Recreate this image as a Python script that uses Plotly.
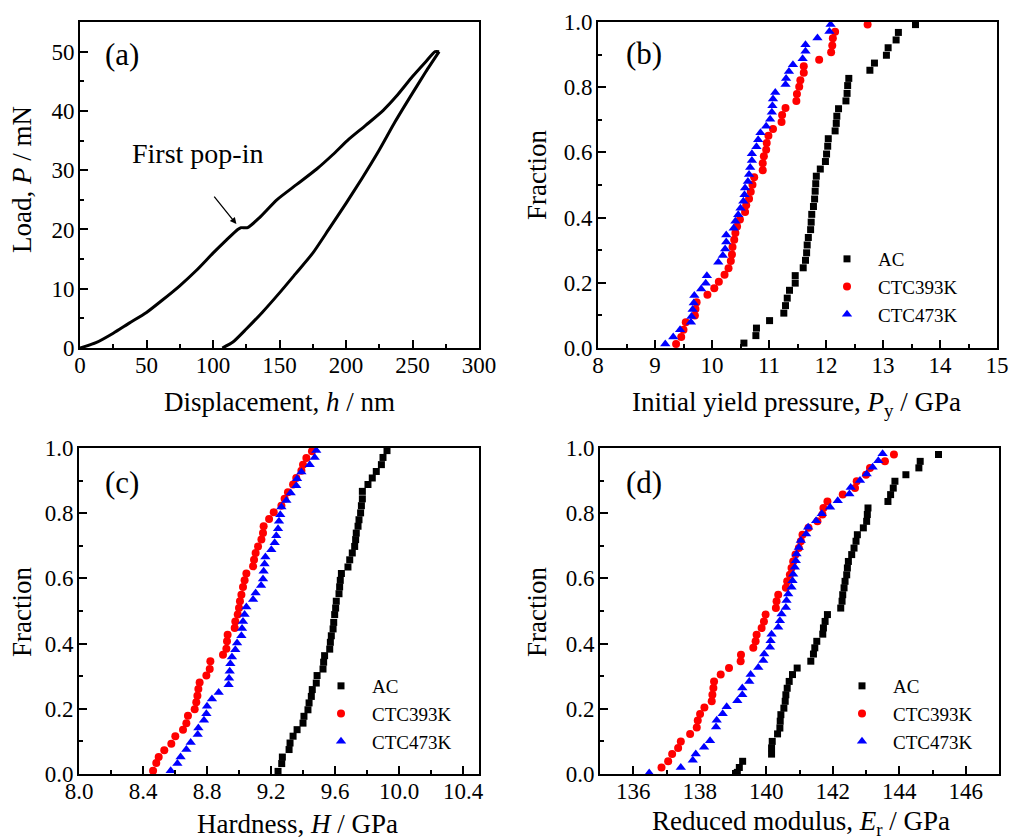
import plotly.graph_objects as go

# ---------------- Panel (a): load-displacement ----------------
load_h = [0, 12, 25, 37, 50, 62, 75, 88, 100, 110, 118.6, 121, 126, 135, 148, 163, 178,
          190, 201, 215, 228, 238, 250, 260, 267, 270]
load_P = [0, 0.9, 2.5, 4.2, 6.0, 8.1, 10.5, 13.2, 16.0, 18.2, 20.0, 20.3, 20.3, 22.0, 25.0,
          27.6, 30.2, 32.6, 35.0, 37.6, 40.1, 42.5, 45.8, 48.3, 50.0, 50.0]
unload_h = [270, 260, 250, 237, 225, 212, 200, 187, 175, 162, 150, 137, 125, 115, 107]
unload_P = [50.0, 46.6, 43.0, 38.2, 33.4, 28.6, 24.4, 20.0, 16.0, 12.5, 9.3, 6.0, 3.2, 1.0, 0]

# ---------------- Panel (b): initial yield pressure ----------------
b_ac_x = [10.56, 10.77, 10.78, 11.01, 11.26, 11.29, 11.32, 11.36, 11.46, 11.46, 11.60, 11.64,
          11.66, 11.67, 11.69, 11.73, 11.74, 11.75, 11.78, 11.80, 11.81, 11.82, 11.83, 11.90,
          11.99, 12.01, 12.03, 12.04, 12.16, 12.18, 12.19, 12.22, 12.35, 12.37, 12.38, 12.40,
          12.77, 12.85, 13.06, 13.09, 13.23, 13.27, 13.57]
b_ac_y = [0.015, 0.038, 0.061, 0.084, 0.107, 0.130, 0.153, 0.177, 0.199, 0.222, 0.246, 0.269,
          0.292, 0.316, 0.339, 0.363, 0.386, 0.410, 0.434, 0.457, 0.481, 0.504, 0.527, 0.549,
          0.572, 0.595, 0.619, 0.642, 0.666, 0.689, 0.711, 0.734, 0.758, 0.781, 0.805, 0.827,
          0.852, 0.874, 0.898, 0.921, 0.945, 0.968, 0.992]
b_393_x = [9.37, 9.46, 9.50, 9.54, 9.70, 9.71, 9.73, 9.92, 10.04, 10.12, 10.22, 10.29, 10.33,
           10.35, 10.36, 10.39, 10.41, 10.44, 10.49, 10.58, 10.60, 10.65, 10.68, 10.71, 10.74,
           10.89, 10.89, 10.91, 10.95, 10.96, 10.99, 11.07, 11.22, 11.23, 11.29, 11.48, 11.49,
           11.53, 11.55, 11.61, 11.61, 11.88, 12.09, 12.11, 12.12, 12.16, 12.73]
b_393_y = [0.012, 0.034, 0.056, 0.079, 0.100, 0.120, 0.140, 0.163, 0.183, 0.203, 0.225, 0.245,
           0.267, 0.287, 0.310, 0.332, 0.353, 0.373, 0.394, 0.417, 0.438, 0.458, 0.479, 0.501,
           0.524, 0.545, 0.567, 0.588, 0.608, 0.629, 0.651, 0.672, 0.693, 0.715, 0.736, 0.758,
           0.779, 0.801, 0.821, 0.844, 0.864, 0.884, 0.907, 0.928, 0.950, 0.970, 0.992]
b_473_x = [9.18, 9.32, 9.44, 9.63, 9.64, 9.66, 9.68, 9.69, 9.81, 9.89, 9.91, 10.11, 10.19,
           10.23, 10.25, 10.25, 10.38, 10.41, 10.46, 10.50, 10.55, 10.57, 10.58, 10.63, 10.65,
           10.67, 10.70, 10.70, 10.78, 10.81, 10.85, 10.95, 11.02, 11.05, 11.06, 11.07, 11.11,
           11.29, 11.30, 11.35, 11.42, 11.59, 11.64, 11.64, 11.85, 12.06, 12.08]
b_473_y = [0.012, 0.034, 0.056, 0.079, 0.097, 0.118, 0.138, 0.161, 0.181, 0.199, 0.222, 0.263,
           0.284, 0.304, 0.325, 0.347, 0.367, 0.389, 0.409, 0.429, 0.450, 0.470, 0.491, 0.511,
           0.532, 0.554, 0.575, 0.596, 0.617, 0.639, 0.660, 0.680, 0.702, 0.723, 0.743, 0.764,
           0.784, 0.808, 0.827, 0.848, 0.869, 0.887, 0.910, 0.930, 0.951, 0.971, 0.992]

# ---------------- Panel (c): hardness ----------------
c_ac_x = [9.244, 9.267, 9.271, 9.313, 9.319, 9.338, 9.363, 9.400, 9.406, 9.431, 9.438, 9.452,
          9.458, 9.483, 9.488, 9.525, 9.529, 9.535, 9.567, 9.571, 9.577, 9.588, 9.592, 9.598,
          9.604, 9.608, 9.625, 9.629, 9.633, 9.640, 9.681, 9.692, 9.708, 9.723, 9.729, 9.733,
          9.744, 9.750, 9.760, 9.765, 9.771, 9.771, 9.806, 9.833, 9.858, 9.890, 9.900, 9.925]
c_ac_y = [0.008, 0.032, 0.052, 0.075, 0.095, 0.116, 0.136, 0.156, 0.177, 0.197, 0.218, 0.238,
          0.259, 0.279, 0.302, 0.322, 0.343, 0.363, 0.383, 0.404, 0.424, 0.445, 0.465, 0.489,
          0.509, 0.530, 0.553, 0.574, 0.594, 0.615, 0.635, 0.657, 0.678, 0.698, 0.719, 0.739,
          0.760, 0.780, 0.801, 0.823, 0.844, 0.867, 0.888, 0.908, 0.928, 0.949, 0.971, 0.992]
c_393_x = [8.463, 8.483, 8.498, 8.533, 8.577, 8.602, 8.650, 8.671, 8.681, 8.723, 8.733, 8.740,
           8.746, 8.754, 8.796, 8.817, 8.821, 8.900, 8.921, 8.925, 8.929, 8.973, 8.977, 8.992,
           9.000, 9.006, 9.015, 9.025, 9.035, 9.046, 9.088, 9.094, 9.104, 9.119, 9.140, 9.150,
           9.154, 9.188, 9.217, 9.265, 9.285, 9.306, 9.338, 9.358, 9.390, 9.400, 9.421, 9.456]
c_393_y = [0.010, 0.034, 0.052, 0.073, 0.093, 0.116, 0.136, 0.156, 0.179, 0.199, 0.220, 0.240,
           0.261, 0.281, 0.302, 0.322, 0.346, 0.366, 0.384, 0.407, 0.427, 0.448, 0.468, 0.489,
           0.509, 0.530, 0.550, 0.574, 0.594, 0.615, 0.637, 0.657, 0.678, 0.698, 0.719, 0.739,
           0.760, 0.782, 0.803, 0.823, 0.844, 0.864, 0.888, 0.908, 0.930, 0.949, 0.969, 0.990]
c_473_x = [8.573, 8.615, 8.635, 8.671, 8.698, 8.742, 8.746, 8.781, 8.796, 8.800, 8.831, 8.873,
           8.935, 8.938, 8.942, 8.946, 8.956, 8.977, 8.988, 9.015, 9.019, 9.025, 9.035, 9.046,
           9.088, 9.104, 9.138, 9.150, 9.154, 9.160, 9.165, 9.202, 9.223, 9.233, 9.244, 9.250,
           9.258, 9.265, 9.296, 9.323, 9.358, 9.363, 9.390, 9.442, 9.473, 9.483]
c_473_y = [0.010, 0.032, 0.052, 0.075, 0.097, 0.121, 0.141, 0.165, 0.185, 0.208, 0.230, 0.250,
           0.274, 0.294, 0.315, 0.338, 0.359, 0.381, 0.402, 0.424, 0.446, 0.468, 0.489, 0.512,
           0.535, 0.555, 0.578, 0.598, 0.622, 0.644, 0.666, 0.688, 0.709, 0.731, 0.752, 0.775,
           0.795, 0.819, 0.839, 0.862, 0.884, 0.906, 0.926, 0.949, 0.971, 0.992]

# ---------------- Panel (d): reduced modulus ----------------
d_ac_x = [139.13, 139.19, 139.29, 140.16, 140.16, 140.18, 140.34, 140.41, 140.42, 140.44,
          140.53, 140.57, 140.59, 140.63, 140.69, 140.79, 140.93, 141.34, 141.42, 141.46,
          141.52, 141.70, 141.72, 141.77, 141.84, 142.24, 142.28, 142.30, 142.34, 142.37,
          142.42, 142.44, 142.47, 142.57, 142.64, 142.70, 142.74, 142.92, 143.02, 143.04,
          143.06, 143.66, 143.74, 143.82, 143.87, 144.20, 144.59, 144.63, 145.18]
d_ac_y = [0.005, 0.020, 0.039, 0.061, 0.080, 0.100, 0.123, 0.141, 0.162, 0.182, 0.202, 0.223,
          0.243, 0.263, 0.284, 0.305, 0.325, 0.346, 0.368, 0.387, 0.407, 0.429, 0.448, 0.468,
          0.489, 0.509, 0.530, 0.550, 0.571, 0.591, 0.611, 0.632, 0.652, 0.673, 0.693, 0.714,
          0.734, 0.755, 0.775, 0.796, 0.816, 0.836, 0.857, 0.877, 0.898, 0.918, 0.939, 0.959,
          0.980]
d_393_x = [136.85, 137.05, 137.17, 137.35, 137.43, 137.71, 137.91, 137.94, 138.01, 138.14,
           138.36, 138.38, 138.41, 138.43, 138.63, 138.88, 139.23, 139.24, 139.61, 139.68,
           139.71, 139.86, 139.93, 139.98, 140.29, 140.31, 140.36, 140.59, 140.63, 140.71,
           140.76, 140.81, 140.88, 140.98, 141.04, 141.09, 141.27, 141.54, 141.69, 141.72,
           141.84, 142.30, 142.67, 142.72, 143.00, 143.12, 143.57, 143.84]
d_393_y = [0.020, 0.039, 0.061, 0.080, 0.100, 0.123, 0.143, 0.164, 0.184, 0.204, 0.223, 0.243,
           0.264, 0.284, 0.305, 0.325, 0.346, 0.366, 0.387, 0.407, 0.427, 0.448, 0.468, 0.489,
           0.509, 0.530, 0.550, 0.571, 0.591, 0.611, 0.632, 0.652, 0.673, 0.693, 0.714, 0.734,
           0.755, 0.775, 0.796, 0.816, 0.836, 0.857, 0.877, 0.898, 0.918, 0.939, 0.959, 0.980]
d_473_x = [136.48, 137.43, 137.79, 137.88, 138.13, 138.31, 138.49, 138.51, 138.69, 138.81,
           139.13, 139.28, 139.28, 139.49, 139.53, 139.76, 139.91, 139.94, 140.11, 140.13,
           140.16, 140.36, 140.41, 140.46, 140.59, 140.61, 140.66, 140.76, 140.79, 140.81,
           140.86, 140.89, 140.91, 140.98, 141.04, 141.20, 141.26, 141.50, 141.67, 141.92,
           142.15, 142.50, 142.54, 142.82, 143.02, 143.20, 143.37, 143.50]
d_473_y = [0.003, 0.020, 0.042, 0.061, 0.082, 0.102, 0.144, 0.165, 0.185, 0.206, 0.225, 0.243,
           0.264, 0.284, 0.305, 0.327, 0.348, 0.368, 0.389, 0.409, 0.429, 0.450, 0.470, 0.491,
           0.511, 0.532, 0.552, 0.573, 0.593, 0.613, 0.634, 0.654, 0.675, 0.695, 0.716, 0.736,
           0.757, 0.777, 0.798, 0.818, 0.838, 0.859, 0.879, 0.900, 0.920, 0.941, 0.961, 0.982]

series_names = ["AC", "CTC393K", "CTC473K"]
series_colors = ["#000000", "#ff0000", "#0000ff"]
series_symbols = ["square", "circle", "triangle-up"]
series_sizes = [7, 8, 9]

W, H = 1009, 840
FONT = "Liberation Serif"

fig = go.Figure()

# panel (a)
fig.add_trace(go.Scatter(x=load_h, y=load_P, mode="lines",
                         line=dict(color="black", width=3, shape="spline", smoothing=0.6),
                         showlegend=False, xaxis="x", yaxis="y"))
fig.add_trace(go.Scatter(x=unload_h, y=unload_P, mode="lines",
                         line=dict(color="black", width=3, shape="spline", smoothing=0.6),
                         showlegend=False, xaxis="x", yaxis="y"))

panel_data = [
    ("x2", "y2", "legend", [(b_ac_x, b_ac_y), (b_393_x, b_393_y), (b_473_x, b_473_y)]),
    ("x3", "y3", "legend2", [(c_ac_x, c_ac_y), (c_393_x, c_393_y), (c_473_x, c_473_y)]),
    ("x4", "y4", "legend3", [(d_ac_x, d_ac_y), (d_393_x, d_393_y), (d_473_x, d_473_y)]),
]
for xa, ya, lg, sets in panel_data:
    for i, (xs, ys) in enumerate(sets):
        fig.add_trace(go.Scatter(
            x=xs, y=ys, mode="markers", name=series_names[i],
            marker=dict(symbol=series_symbols[i], color=series_colors[i], size=series_sizes[i]),
            xaxis=xa, yaxis=ya, legend=lg, cliponaxis=False))

# pixel boxes of the four plot areas (left, right, top, bottom)
boxes = {
    "1": (80, 479, 22, 348),
    "2": (598, 997, 22, 348),
    "3": (79, 479, 448, 774),
    "4": (600, 999, 448, 774),
}

def dom(b):
    l, r, t, bt = b
    return [l / W, r / W], [1 - bt / H, 1 - t / H]

def axis_common(rng, dtick, minor_dtick, fmt=None, is_x=True, anchor=None, domain=None):
    d = dict(
        range=rng, dtick=dtick, tick0=rng[0] if is_x else 0,
        showline=True, linewidth=2, linecolor="black", mirror=True,
        ticks="inside", ticklen=8, tickwidth=1.5, tickcolor="black",
        minor=dict(ticks="inside", ticklen=4, tickwidth=1.5, tickcolor="black", dtick=minor_dtick),
        showgrid=False, zeroline=False, automargin=False,
        tickfont=dict(size=23, family=FONT, color="black"),
        ticklabelstandoff=-5 if is_x else -1,
        anchor=anchor, domain=domain,
    )
    if fmt:
        d["tickformat"] = fmt
    return d

xd1, yd1 = dom(boxes["1"])
xd2, yd2 = dom(boxes["2"])
xd3, yd3 = dom(boxes["3"])
xd4, yd4 = dom(boxes["4"])

layout = dict(
    width=W, height=H,
    template="none",
    margin=dict(l=0, r=0, t=0, b=0, autoexpand=False),
    paper_bgcolor="white", plot_bgcolor="white",
    font=dict(family=FONT, color="black"),
    xaxis=axis_common([0, 300], 50, 25, anchor="y", domain=xd1),
    yaxis=axis_common([0, 55], 10, 5, is_x=False, anchor="x", domain=yd1),
    xaxis2=axis_common([8, 15], 1, 0.5, anchor="y2", domain=xd2),
    yaxis2=axis_common([0, 1], 0.2, 0.1, fmt=".1f", is_x=False, anchor="x2", domain=yd2),
    xaxis3=axis_common([8.0, 10.5], 0.4, 0.2, fmt=".1f", anchor="y3", domain=xd3),
    yaxis3=axis_common([0, 1], 0.2, 0.1, fmt=".1f", is_x=False, anchor="x3", domain=yd3),
    xaxis4=axis_common([135, 147], 2, 1, anchor="y4", domain=xd4),
    yaxis4=axis_common([0, 1], 0.2, 0.1, fmt=".1f", is_x=False, anchor="x4", domain=yd4),
)
layout["xaxis4"]["tick0"] = 136

leg_common = dict(font=dict(size=19, family=FONT, color="black"), bgcolor="rgba(0,0,0,0)",
                  borderwidth=0, itemwidth=52, xanchor="left", yanchor="top", tracegroupgap=0)
layout["legend"] = dict(leg_common, x=816 / W, y=1 - 240 / H)
layout["legend2"] = dict(leg_common, x=310 / W, y=1 - 667 / H)
layout["legend3"] = dict(leg_common, x=831 / W, y=1 - 667 / H)

fig.update_layout(**layout)

def ptext(txt, px, py, size, angle=0):
    fig.add_annotation(text=txt, x=px / W, y=1 - py / H, xref="paper", yref="paper",
                       showarrow=False, font=dict(size=size, family=FONT, color="black"),
                       xanchor="center", yanchor="middle", textangle=angle)

# axis titles
ptext("Displacement, <i>h</i> / nm", 279, 402, 27)
ptext("Initial yield pressure, <i>P</i><sub>y</sub> / GPa", 796, 404, 27)
ptext("Hardness, <i>H</i> / GPa", 297, 824, 27)
ptext("Reduced modulus, <i>E</i><sub>r</sub> / GPa", 801, 823, 27)
ptext("Load, <i>P</i> / mN", 22, 180, 27, -90)
ptext("Fraction", 537, 175, 27, -90)
ptext("Fraction", 22, 612, 27, -90)
ptext("Fraction", 537, 612, 27, -90)

# panel labels
for txt, px, py in [("(a)", 122, 55), ("(b)", 644, 53), ("(c)", 122, 483), ("(d)", 644, 483)]:
    ptext(txt, px, py, 31)

# first pop-in annotation
fig.add_annotation(text="First pop-in", x=88, y=32.75, xref="x", yref="y", showarrow=False,
                   font=dict(size=28, family=FONT, color="black"), xanchor="center", yanchor="middle")
fig.add_annotation(text="", x=117.6, y=20.9, ax=100, ay=25.8, xref="x", yref="y",
                   axref="x", ayref="y", showarrow=True, arrowhead=2, arrowsize=1,
                   arrowwidth=1.3, arrowcolor="black")

fig.write_html("out.html", config={"displayModeBar": False},
               post_script="document.body.style.margin='0px';")
